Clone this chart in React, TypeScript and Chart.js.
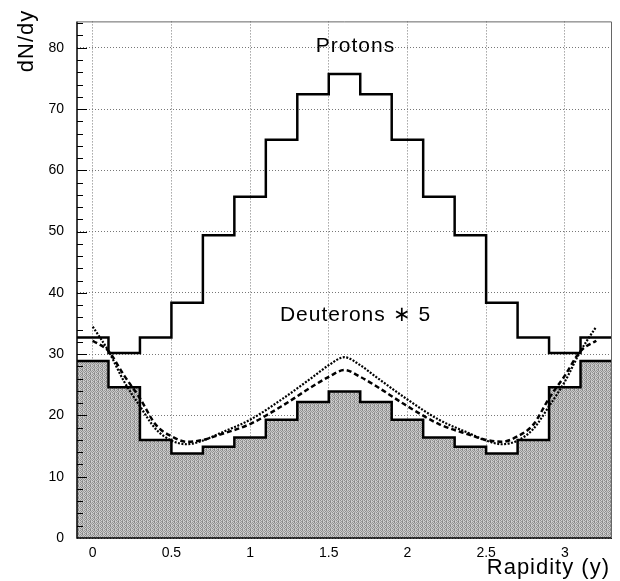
import React, { useEffect, useRef } from "react";
import { Chart, registerables } from "chart.js";

Chart.register(...registerables);

// Bin centres (rapidity), bin width 0.2
const binCenters = [0, 0.2, 0.4, 0.6, 0.8, 1.0, 1.2, 1.4, 1.6, 1.8, 2.0, 2.2, 2.4, 2.6, 2.8, 3.0, 3.2];
const binWidth = 0.2;
const protons = [32.7, 30.2, 32.7, 38.4, 49.4, 55.7, 65.0, 72.4, 75.7, 72.4, 65.0, 55.7, 49.4, 38.4, 32.7, 30.2, 32.7];
const deuteronsX5 = [28.9, 24.6, 16.0, 13.8, 14.9, 16.4, 19.3, 22.2, 23.9, 22.2, 19.3, 16.4, 14.9, 13.8, 16.0, 24.6, 28.9];

// Model curves
const curveX = [0, 0.1, 0.2, 0.3, 0.4, 0.5, 0.6, 0.7, 0.8, 1.0, 1.2, 1.4, 1.5, 1.6, 1.7, 1.8, 2.0, 2.2, 2.4, 2.5, 2.6, 2.7, 2.8, 2.9, 3.0, 3.1, 3.2];
const dottedY = [34.5, 30.5, 25.5, 21.5, 17.8, 15.9, 15.3, 15.9, 17.0, 19.3, 22.6, 26.3, 28.2, 29.5, 28.2, 26.3, 22.6, 19.3, 17.0, 15.9, 15.3, 15.9, 17.8, 21.5, 25.5, 30.5, 34.5];
const dashedY = [32.2, 30.5, 26.5, 22.8, 18.5, 16.6, 15.7, 16.0, 16.8, 18.6, 21.5, 24.8, 26.3, 27.4, 26.3, 24.8, 21.5, 18.6, 16.8, 16.0, 15.7, 16.6, 18.5, 22.8, 26.5, 30.5, 32.2];

const xTicks = [0, 0.5, 1, 1.5, 2, 2.5, 3];
const yTicks = [0, 10, 20, 30, 40, 50, 60, 70, 80];
const xRange = [-0.1, 3.3];
const yRange = [0, 84.3];

const FONT = "'Liberation Sans', Arial, sans-serif";

function histPoints(values: number[]) {
  const pts = values.map((v, i) => ({ x: binCenters[i] - binWidth / 2, y: v }));
  const last = values.length - 1;
  pts.push({ x: binCenters[last] + binWidth / 2, y: values[last] });
  return pts;
}

function makePattern(): CanvasPattern | string {
  const c = document.createElement("canvas");
  c.width = 4;
  c.height = 4;
  const g = c.getContext("2d");
  if (!g) return "#a0a0a0";
  const cols = [
    ["#8e8e8e", "#d2d2d2", "#9a9a9a", "#c4c4c4"],
    ["#c6c6c6", "#9c9c9c", "#888888", "#d0d0d0"],
    ["#969696", "#cccccc", "#8a8a8a", "#c8c8c8"],
    ["#cecece", "#8c8c8c", "#c2c2c2", "#9e9e9e"],
  ];
  for (let r = 0; r < 4; r++)
    for (let k = 0; k < 4; k++) {
      g.fillStyle = cols[r][k];
      g.fillRect(k, r, 1, 1);
    }
  return g.createPattern(c, "repeat") || "#a0a0a0";
}

const decorPlugin = {
  id: "decor",
  afterDatasetsDraw(chart: any) {
    const { ctx, chartArea: a, scales } = chart;
    const xs = scales.x;
    const ys = scales.y;
    ctx.save();
    // frame
    ctx.strokeStyle = "#000";
    ctx.lineWidth = 1.5;
    ctx.beginPath();
    ctx.moveTo(a.left, a.top);
    ctx.lineTo(a.left, a.bottom);
    ctx.lineTo(a.right, a.bottom);
    ctx.stroke();
    ctx.strokeStyle = "#666";
    ctx.lineWidth = 1;
    ctx.beginPath();
    ctx.moveTo(a.left, a.top + 0.5);
    ctx.lineTo(a.right - 0.5, a.top + 0.5);
    ctx.lineTo(a.right - 0.5, a.bottom);
    ctx.stroke();
    // inward y ticks
    ctx.strokeStyle = "#000";
    ctx.lineWidth = 1;
    for (let v = 2; v <= yRange[1]; v += 2) {
      const py = Math.round(ys.getPixelForValue(v)) + 0.5;
      const len = v % 10 === 0 ? 10 : 6;
      ctx.beginPath();
      ctx.moveTo(a.left, py);
      ctx.lineTo(a.left + len, py);
      ctx.stroke();
    }
    // texts
    ctx.fillStyle = "#000";
    ctx.textAlign = "center";
    ctx.textBaseline = "middle";
    ctx.font = `21px ${FONT}`;
    (ctx as any).letterSpacing = "1px";
    ctx.fillText("Protons", xs.getPixelForValue(1.67), ys.getPixelForValue(80.2));
    ctx.fillText("Deuterons \u2217 5", xs.getPixelForValue(1.67), ys.getPixelForValue(36.4));
    ctx.font = `22px ${FONT}`;
    ctx.textAlign = "right";
    ctx.textBaseline = "alphabetic";
    ctx.fillText("Rapidity (y)", 610, 574);
    ctx.save();
    ctx.translate(33, 41);
    ctx.rotate(-Math.PI / 2);
    ctx.textAlign = "center";
    ctx.fillText("dN/dy", 0, 0);
    ctx.restore();
    ctx.restore();
  },
};

export default function App() {
  const ref = useRef<HTMLCanvasElement | null>(null);
  useEffect(() => {
    if (!ref.current) return;
    const chart = new Chart(ref.current, {
      type: "line",
      data: {
        datasets: [
          {
            label: "Deuterons * 5",
            data: histPoints(deuteronsX5),
            stepped: "before",
            borderColor: "#000",
            borderWidth: 2.5,
            backgroundColor: makePattern() as any,
            fill: "origin",
            pointRadius: 0,
            order: 3,
          },
          {
            label: "Protons",
            data: histPoints(protons),
            stepped: "before",
            borderColor: "#000",
            borderWidth: 2.5,
            fill: false,
            pointRadius: 0,
            order: 2,
          },
          {
            label: "model dotted",
            data: curveX.map((x, i) => ({ x, y: dottedY[i] })),
            borderColor: "#000",
            borderWidth: 2.2,
            borderDash: [2, 1.5],
            cubicInterpolationMode: "monotone",
            fill: false,
            pointRadius: 0,
            order: 1,
          },
          {
            label: "model dashed",
            data: curveX.map((x, i) => ({ x, y: dashedY[i] })),
            borderColor: "#000",
            borderWidth: 2.5,
            borderDash: [5, 3],
            cubicInterpolationMode: "monotone",
            fill: false,
            pointRadius: 0,
            order: 0,
          },
        ],
      },
      options: {
        responsive: false,
        animation: false,
        layout: { padding: { top: 5, right: 8, left: 0, bottom: 0 } },
        plugins: { legend: { display: false }, tooltip: { enabled: false } },
        scales: {
          x: {
            type: "linear",
            min: xRange[0],
            max: xRange[1],
            afterBuildTicks: (s: any) => {
              s.ticks = xTicks.map((v) => ({ value: v }));
            },
            afterFit: (s: any) => {
              s.height = 43;
            },
            grid: { color: "#777", lineWidth: 1, drawTicks: false } as any,
            border: { display: false, dash: [1, 2] },
            ticks: {
              color: "#000",
              padding: 7,
              font: { family: FONT, size: 14 },
              callback: (v: any) => String(v),
            },
          },
          y: {
            type: "linear",
            min: yRange[0],
            max: yRange[1],
            afterBuildTicks: (s: any) => {
              s.ticks = yTicks.map((v) => ({ value: v }));
            },
            afterFit: (s: any) => {
              s.width = 77;
            },
            grid: { color: "#777", lineWidth: 1, drawTicks: false } as any,
            border: { display: false, dash: [1, 2] },
            ticks: {
              color: "#000",
              padding: 13,
              font: { family: FONT, size: 14 },
              callback: (v: any) => String(v),
            },
          },
        },
      },
      plugins: [decorPlugin],
    } as any);
    return () => chart.destroy();
  }, []);
  return (
    <div style={{ position: "fixed", left: 0, top: 0, width: 620, height: 581, background: "#fff" }}>
      <canvas ref={ref} width={620} height={581} />
    </div>
  );
}
